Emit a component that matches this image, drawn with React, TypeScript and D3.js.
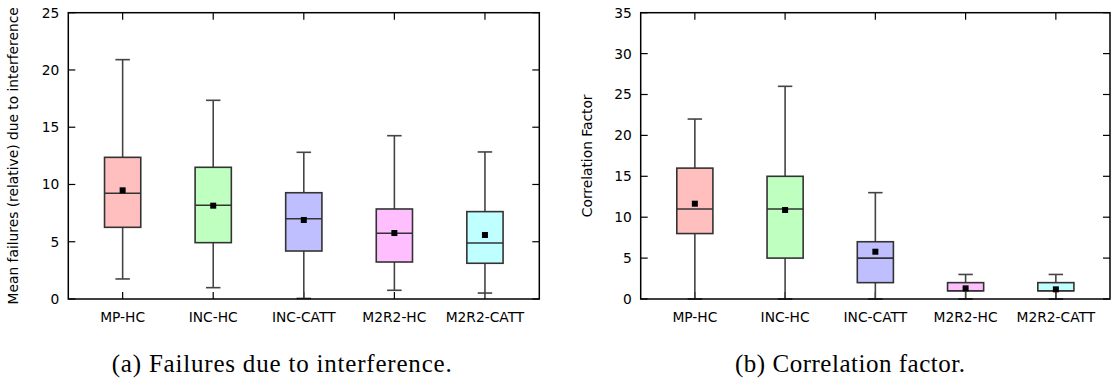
import React from "react";
import * as d3 from "d3";

const categories = ["MP-HC", "INC-HC", "INC-CATT", "M2R2-HC", "M2R2-CATT"];
const fillColors = ["#ffbfbf", "#bfffbf", "#bfbfff", "#ffbfff", "#bfffff"];

// (a) Failures due to interference
const failMin = [1.75, 0.99, 0.05, 0.76, 0.52];
const failQ1 = [6.26, 4.92, 4.19, 3.23, 3.12];
const failMedian = [9.23, 8.18, 7.01, 5.74, 4.89];
const failQ3 = [12.37, 11.5, 9.28, 7.86, 7.63];
const failMax = [20.9, 17.35, 12.81, 14.26, 12.84];
const failMean = [9.49, 8.15, 6.9, 5.76, 5.59];
const failTicks = [0, 5, 10, 15, 20, 25];

// (b) Correlation factor
const corrMin = [0, 0, 0, 0, 0];
const corrQ1 = [8, 5, 2, 1, 1];
const corrMedian = [11, 11, 5, 1, 1];
const corrQ3 = [16, 15, 7, 2, 2];
const corrMax = [22, 26, 13, 3, 3];
const corrMean = [11.65, 10.88, 5.78, 1.3, 1.18];
const corrTicks = [0, 5, 10, 15, 20, 25, 30, 35];

const FONT = "'DejaVu Sans', sans-serif";
const FS = 13.8;

type PanelProps = {
  left: number;
  right: number;
  top: number;
  bottom: number;
  yMax: number;
  ticks: number[];
  mins: number[];
  q1: number[];
  med: number[];
  q3: number[];
  maxs: number[];
  means: number[];
  yLabel: string;
  yLabelX: number;
};

function Panel(p: PanelProps) {
  const x = d3.scaleLinear().domain([0.4, 5.6]).range([p.left, p.right]);
  const y = d3.scaleLinear().domain([0, p.yMax]).range([p.bottom, p.top]);
  const unit = x(1) - x(0);
  const bw = 0.4 * unit;
  const cw = 0.16 * unit;
  const tl = 7;
  const stroke = "#333";
  const whisk = "#444";
  return (
    <g>
      {p.ticks.map((t) => (
        <g key={"y" + t}>
          <line x1={p.left} x2={p.left + tl} y1={y(t)} y2={y(t)} stroke="#000" strokeWidth={1.2} />
          <line x1={p.right} x2={p.right - tl} y1={y(t)} y2={y(t)} stroke="#000" strokeWidth={1.2} />
          <text x={p.left - 9} y={y(t)} dy="0.36em" textAnchor="end" fontFamily={FONT} fontSize={FS} fill="#000">
            {t}
          </text>
        </g>
      ))}
      {categories.map((c, i) => (
        <g key={"x" + c}>
          <line x1={x(i + 1)} x2={x(i + 1)} y1={p.bottom} y2={p.bottom - tl} stroke="#000" strokeWidth={1.2} />
          <line x1={x(i + 1)} x2={x(i + 1)} y1={p.top} y2={p.top + tl} stroke="#000" strokeWidth={1.2} />
          <text x={x(i + 1)} y={321.7} textAnchor="middle" fontFamily={FONT} fontSize={FS} fill="#000">
            {c}
          </text>
        </g>
      ))}
      {categories.map((c, i) => {
        const cx = x(i + 1);
        return (
          <g key={"b" + c}>
            <line x1={cx} x2={cx} y1={y(p.maxs[i])} y2={y(p.q3[i])} stroke={whisk} strokeWidth={1.6} />
            <line x1={cx} x2={cx} y1={y(p.q1[i])} y2={y(p.mins[i])} stroke={whisk} strokeWidth={1.6} />
            <line x1={cx - cw / 2} x2={cx + cw / 2} y1={y(p.maxs[i])} y2={y(p.maxs[i])} stroke={whisk} strokeWidth={1.6} />
            <line x1={cx - cw / 2} x2={cx + cw / 2} y1={y(p.mins[i])} y2={y(p.mins[i])} stroke={whisk} strokeWidth={1.6} />
            <rect
              x={cx - bw / 2}
              y={y(p.q3[i])}
              width={bw}
              height={y(p.q1[i]) - y(p.q3[i])}
              fill={fillColors[i]}
              stroke={stroke}
              strokeWidth={1.6}
            />
            <line x1={cx - bw / 2} x2={cx + bw / 2} y1={y(p.med[i])} y2={y(p.med[i])} stroke={stroke} strokeWidth={1.6} />
            <rect x={cx - 3} y={y(p.means[i]) - 3} width={6} height={6} fill="#000" />
          </g>
        );
      })}
      <rect x={p.left} y={p.top} width={p.right - p.left} height={p.bottom - p.top} fill="none" stroke="#000" strokeWidth={1.5} />
      <text
        transform={`translate(${p.yLabelX},${(p.top + p.bottom) / 2}) rotate(-90)`}
        textAnchor="middle"
        dy="0.36em"
        fontFamily={FONT}
        fontSize={FS}
        fill="#000"
      >
        {p.yLabel}
      </text>
    </g>
  );
}

export default function App() {
  return (
    <div style={{ position: "absolute", left: 0, top: 0 }}>
      <svg width={1113} height={383} style={{ display: "block", background: "#fff" }}>
        <Panel
          left={68.3}
          right={539.3}
          top={12.7}
          bottom={299}
          yMax={25}
          ticks={failTicks}
          mins={failMin}
          q1={failQ1}
          med={failMedian}
          q3={failQ3}
          maxs={failMax}
          means={failMean}
          yLabel="Mean failures (relative) due to interference"
          yLabelX={13.5}
        />
        <Panel
          left={640.7}
          right={1110}
          top={12.7}
          bottom={299}
          yMax={35}
          ticks={corrTicks}
          mins={corrMin}
          q1={corrQ1}
          med={corrMedian}
          q3={corrQ3}
          maxs={corrMax}
          means={corrMean}
          yLabel="Correlation Factor"
          yLabelX={587.5}
        />
        <text x={281.7} y={372} textAnchor="middle" fontFamily="'Liberation Serif', serif" fontSize={25} fill="#000" textLength={340} lengthAdjust="spacing">
          (a) Failures due to interference.
        </text>
        <text x={850} y={372} textAnchor="middle" fontFamily="'Liberation Serif', serif" fontSize={25} fill="#000" textLength={230} lengthAdjust="spacing">
          (b) Correlation factor.
        </text>
      </svg>
    </div>
  );
}
